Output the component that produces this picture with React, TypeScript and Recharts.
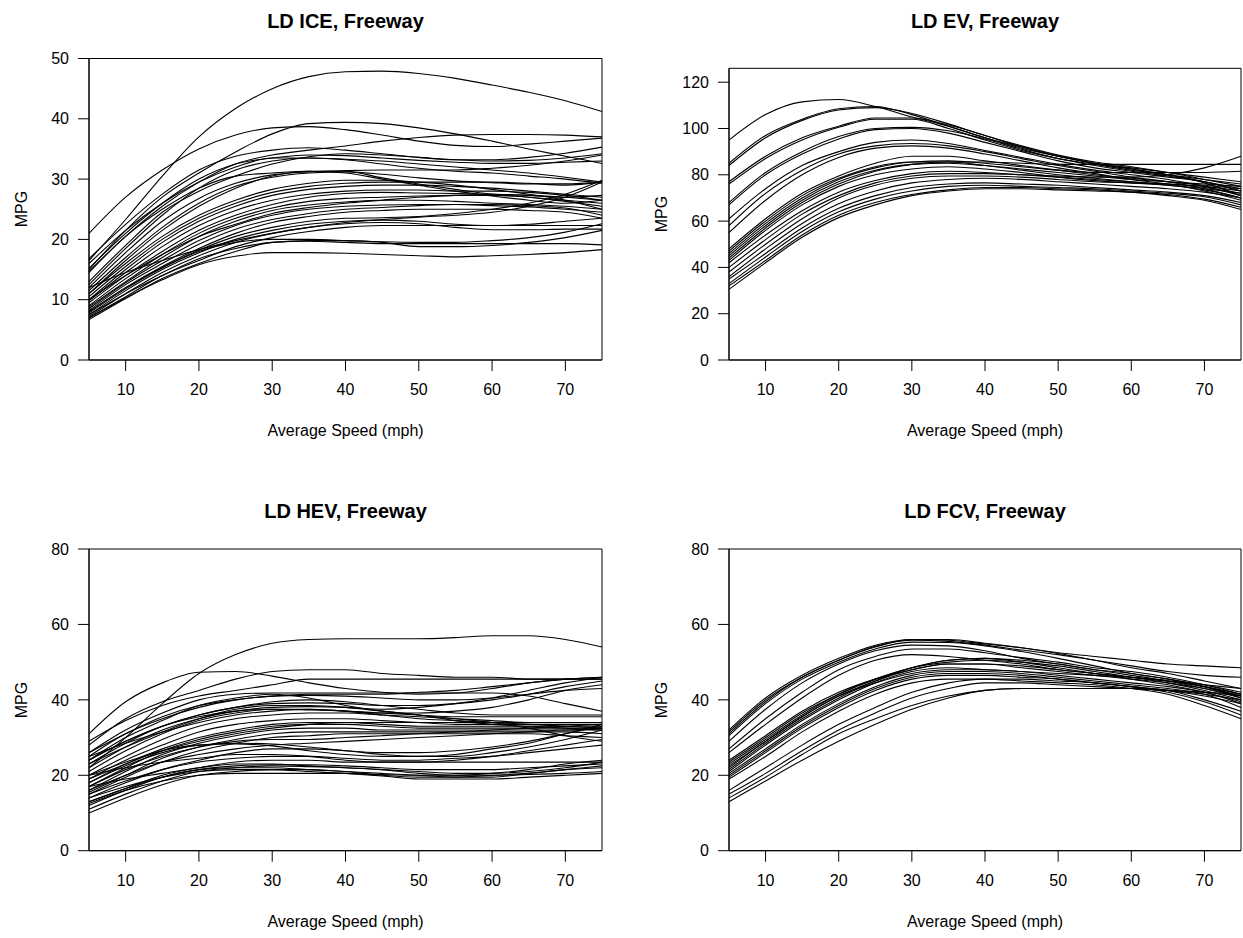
import React from 'react';
import { LineChart, Line, XAxis, YAxis, ReferenceArea } from 'recharts';

const speeds = [5, 10, 15, 20, 25, 30, 35, 40, 45, 50, 55, 60, 65, 70, 75];
const speedTicks = [10, 20, 30, 40, 50, 60, 70];

const iceMpg = [
  [21, 27, 31.5, 35, 37.3, 38.5, 38.7, 38.2, 37.3, 36.3, 35.6, 35.4, 35.8, 36.3, 36.8],
  [16.5, 23.3, 30.5, 37, 41.7, 45, 47, 47.8, 47.9, 47.5, 46.7, 45.6, 44.4, 43, 41.2],
  [15, 21.5, 27, 31, 34.5, 37.5, 39.2, 39.4, 39.2, 38.5, 37.5, 36.3, 35, 33.8, 32.6],
  [14.7, 20.5, 25.5, 29.5, 32.5, 34, 34.8, 35.5, 36.3, 36.9, 37.3, 37.4, 37.4, 37.3, 37],
  [16.8, 22.5, 27.5, 31.5, 33.8, 34.8, 35.2, 34.8, 34.2, 33.6, 33.2, 33.2, 33.6, 34.3, 35.3],
  [15.2, 21, 26, 30, 32.5, 33.5, 34, 33.9, 33.5, 33.1, 32.8, 32.6, 32.6, 32.8, 33],
  [12.5, 18.5, 24, 28.5, 31.5, 33, 33.5, 33.3, 33, 32.5, 32, 31.5, 31, 30.3, 29.5],
  [13, 19, 24.5, 28, 30.5, 32.5, 33.7, 34.2, 34, 33.6, 33.2, 33, 33.1, 33.5, 34.2],
  [12, 17.8, 23, 26.8, 29.3, 30.7, 31.2, 31.4, 31.5, 31.5, 31.5, 31.8, 32.3, 33, 34],
  [11.5, 17, 22, 26, 28.8, 30.3, 31, 31.2, 30.8, 30.2, 29.7, 29.4, 29.2, 29.2, 29.5],
  [11, 16.5, 21.5, 25.5, 28.5, 30.5, 31.3, 31.3, 30.2, 29.2, 28.3, 27.5, 27, 26.5, 26],
  [10.5, 15.5, 20, 23.5, 26, 27.8, 28.8, 29.3, 29.5, 29.5, 29.5, 29.5, 29.3, 29, 29.5],
  [10, 15, 19.5, 23, 25.5, 27.3, 28.3, 28.8, 29, 29, 28.8, 28.5, 28, 27.5, 27],
  [9.8, 14.5, 18.8, 22.3, 24.8, 26.5, 27.5, 28, 28.2, 28.2, 28, 28, 27.8, 27.3, 26.5],
  [9.5, 14, 18, 21.5, 24, 25.8, 27, 27.6, 27.8, 27.7, 27.6, 27.5, 27.3, 27, 27.3],
  [9, 13.5, 17.5, 21, 23.5, 25.2, 26.3, 26.8, 27, 27.2, 27.3, 27.3, 27, 26.3, 25.5],
  [8.8, 13, 17, 20.5, 23, 24.8, 25.7, 26.2, 26.5, 26.5, 26.3, 26, 25.8, 25.5, 25],
  [8.5, 12.8, 16.5, 19.8, 22.3, 24, 25, 25.5, 25.7, 25.8, 25.8, 25.6, 25.4, 25, 24.5],
  [8.2, 12.5, 16, 19.2, 21.7, 23.3, 24.3, 25, 25.3, 25.6, 25.8, 25.8, 25.6, 25.2, 24],
  [8, 12, 15.5, 18.5, 21, 22.8, 23.8, 24.5, 24.8, 25, 25, 25, 24.8, 24.5, 23.5],
  [12, 14.5, 16.5, 18.3, 19.8, 21, 22, 22.8, 23.3, 23.7, 24, 24.5, 25.5, 27, 29.5],
  [7.8, 11.8, 15.3, 18.2, 20.5, 22, 23, 23.5, 23.6, 23.8, 24.3, 25, 26, 27.5, 29.8],
  [7.5, 11.5, 15, 17.8, 20, 21.5, 22.5, 23, 23.2, 23, 22.5, 22.3, 22.5, 23, 23.5],
  [7.2, 11, 14.5, 17.3, 19.5, 21, 22, 22.6, 22.8, 22.6, 22, 21.6, 21.6, 21.7, 21.7],
  [7, 10.5, 14, 16.5, 18.8, 20.3, 21.3, 22, 22.3, 22.3, 22.3, 22.3, 22.3, 22.3, 22.3],
  [6.7, 10.2, 13.5, 16, 18, 19.5, 19.8, 19.8, 19.6, 19.5, 19.5, 19.8, 20.3, 21.2, 22.6],
  [7.5, 11, 14, 16.8, 18.5, 19.5, 19.7, 19.5, 19.3, 19.3, 19.3, 19.3, 19.3, 19.3, 19.1],
  [7, 10.3, 13.3, 15.8, 17.2, 17.8, 17.8, 17.7, 17.5, 17.3, 17.1, 17.3, 17.5, 17.8, 18.3],
  [8, 12, 15.3, 18, 19.5, 20, 20, 19.8, 19.5, 18.8, 18.8, 19, 19.5, 20.3, 21.5],
  [16, 21.5, 26, 29.5, 32, 33.5, 33.5, 33.2, 32.5, 31.8, 31.3, 31, 30.5, 30, 29.3],
  [14.5, 20.5, 25, 28.5, 30.5, 31, 31.3, 31, 30, 29, 28, 27.2, 26.5, 26, 26.5],
  [11, 16, 20.5, 24, 26.5, 28.3, 29.3, 29.8, 29.8, 29.5, 29, 28.3, 27.5, 26.5, 25],
  [10, 14, 17.5, 20.5, 22.5, 24.3, 25.3, 26, 26.5, 27, 27.3, 27.5, 27.3, 27, 26.5],
];

const evMpg = [
  [95, 106, 111.5, 112.5, 109.5, 105, 101, 96, 91.5, 88, 85, 82.5, 80, 76.5, 71],
  [85, 97, 104, 108.5, 109.5, 106, 101, 96, 92, 88, 85, 82.5, 80, 77, 73],
  [84, 96, 103.5, 108, 109, 106.5, 102, 97, 92.5, 88.5, 85.5, 83.5, 81, 78, 75],
  [77, 88, 96, 101, 104.5, 104.5, 101.5, 97, 92, 88, 85, 83, 81, 79, 77],
  [76, 87, 95, 100.5, 104, 104, 100, 95, 90.5, 87, 84.5, 82, 80, 78, 76],
  [68, 81, 90, 96.5, 100, 100.5, 99, 95.5, 91, 87, 84, 81.5, 79.5, 77, 74],
  [67, 80, 89, 95.5, 99.5, 100, 98, 94, 90, 86, 83, 81, 79, 77, 73],
  [61, 74, 84, 90, 94, 95, 93.5, 90.5, 87.5, 84.5, 82, 80, 78, 75, 71],
  [58, 72, 82, 89, 92.5, 93.5, 92.5, 90, 87, 84, 81.5, 79, 77, 74, 70],
  [55, 69, 80, 87.5, 91.5, 92.5, 91.5, 89, 86, 83, 80.5, 78, 76, 73, 69],
  [48, 61, 72, 79.5, 85, 88, 88, 86, 84, 82, 80, 78.5, 77, 75.5, 74],
  [47, 60, 71, 78.5, 83.5, 85.5, 85.5, 84, 82, 80, 78.5, 77, 75.5, 74, 72],
  [45, 58, 69, 77, 82, 84.5, 85, 84, 82.5, 81, 79.5, 78, 77, 76, 75],
  [43, 56, 67, 75, 80, 82.5, 83.5, 82.5, 81, 79, 77.5, 76.5, 75.5, 73.5, 70],
  [42, 54, 64.5, 72.5, 77.5, 80.5, 81.5, 81, 80, 79, 78, 77, 76, 74.5, 72],
  [40, 52, 63, 71, 76.5, 79.5, 80.5, 80.5, 80, 79.5, 79, 79, 80, 83, 88],
  [44, 57, 68, 76, 81.5, 84.5, 85.5, 85.5, 85, 84.5, 84.5, 84.5, 84.5, 84.5, 84.5],
  [46, 59, 70, 78, 83, 85.5, 86, 85, 83.5, 82, 81, 81, 81, 81, 81.5],
  [38, 50, 61, 70, 75.5, 78.5, 79.5, 79.5, 79, 78, 77, 76.5, 76, 75, 73],
  [36, 48, 59, 67.5, 73, 76.5, 78, 78.5, 78, 77, 76, 75, 74, 72.5, 70],
  [35, 46, 57, 65.5, 71, 74.5, 76, 76.5, 76, 75.5, 74.5, 73.5, 72.5, 71, 68],
  [33, 44.5, 55.5, 64, 69.5, 73, 75, 75.5, 75, 74.5, 74, 73, 72, 70.5, 67],
  [32, 43, 54, 62.5, 68, 71.5, 73.5, 74.5, 74.5, 74, 73.5, 72.5, 71.5, 69.5, 66],
  [30.5, 42, 53, 61.5, 67, 71, 73, 74, 74, 73.5, 73, 72.5, 71, 69, 65],
];

const hevMpg = [
  [31, 39.5, 44.5, 47.3, 47.5, 46.3, 44.5, 43, 42, 41.5, 41.8, 43, 44.5, 45.5, 46],
  [22, 30, 39, 47, 52, 55, 56, 56.2, 56.2, 56.2, 56.5, 57, 57, 56, 54],
  [28, 35, 39.5, 42.5, 45.5, 47.5, 48, 48, 47, 46.5, 46, 46, 45.5, 45.5, 45.5],
  [29, 34.5, 38.5, 41, 42.5, 44, 45.5, 45.5, 45.5, 45.5, 45.5, 45.5, 45.5, 45.5, 45.5],
  [26, 32, 36.5, 40, 41.5, 41.8, 41.8, 41.8, 41.8, 41.8, 41.8, 41.8, 41, 39, 37],
  [24, 30, 34.5, 38.5, 40.5, 41.5, 40.5, 38.5, 37, 36, 34.5, 33.5, 33, 32.5, 32],
  [25, 31, 35, 38, 40, 41, 41.2, 41, 40.5, 40, 40, 40.5, 41.5, 42.5, 43],
  [23, 28.5, 33, 36, 38, 39, 39.2, 39, 38.5, 38.5, 39, 40, 41.5, 43.5, 45],
  [22, 27.5, 32, 35, 37, 38, 38.2, 38, 37.5, 38, 39, 40.5, 42.5, 44.5, 46],
  [21, 26.5, 31, 34.5, 36.5, 37.5, 37.5, 37, 36.5, 36.5, 37, 38, 40, 42.5, 44],
  [24, 29, 33, 35.5, 37, 37.5, 37.3, 37, 36.5, 36, 35.5, 35.5, 35.5, 35.5, 35.5],
  [20, 25, 29.5, 33, 35, 36, 36.5, 36.5, 36, 35.5, 35, 34.5, 34, 34, 34],
  [19, 24, 28, 31.5, 33.5, 34.5, 35, 35, 34.5, 34, 33.5, 33.5, 33.5, 33.5, 33.5],
  [18, 23, 27, 30, 32, 33.5, 34, 34, 33.5, 33, 33, 33, 33, 33, 33],
  [17, 22, 26.5, 29.5, 31.5, 33, 33.5, 33.5, 33, 32.5, 32.5, 32.5, 32.5, 32.5, 32.5],
  [16, 21, 25.5, 28.5, 30.5, 32, 32.5, 32.5, 32, 32, 32, 32, 32, 32, 32.5],
  [15.5, 20, 24.5, 27.5, 29.5, 31, 31.5, 31.5, 31.5, 31.5, 31.5, 31.5, 31.5, 31.5, 31],
  [15, 19.5, 23.5, 26.5, 28.5, 30, 30.5, 31, 31, 31, 31, 31, 31, 30.5, 30],
  [17, 21.5, 25, 27.5, 29, 29.5, 29.5, 30, 30.5, 31, 31.5, 32, 32.5, 33, 33.5],
  [18, 22.5, 26, 28, 28.5, 28.3, 27.5, 26.5, 26, 26, 26.5, 27.5, 29, 31, 33],
  [19, 23, 26.5, 28, 28.3, 27.8, 26.5, 25.5, 25, 25, 25.5, 27, 28.5, 31, 33.5],
  [16, 20, 23.5, 25.5, 27, 28, 28.5, 29, 29.5, 30, 30.5, 31, 31.5, 32, 32],
  [14, 18, 21.5, 24, 26, 27, 27, 26.5, 25.5, 25, 25, 26, 27.5, 29.5, 32],
  [15, 18.5, 21.5, 23.5, 24.5, 25, 25, 24.5, 24, 24, 24.5, 25, 26, 27, 28],
  [13, 16.5, 20, 22, 23.5, 24, 24, 23.5, 23.5, 23.5, 23.5, 23.5, 23.5, 23.5, 23.5],
  [20, 22, 23.5, 24.5, 25.5, 25.5, 25, 24, 23.5, 23.5, 24, 25, 26.5, 28, 29.5],
  [12, 16, 19.5, 21.5, 22.5, 22.8, 22.8, 22.5, 22, 21.5, 21.5, 21.5, 22, 22.5, 23],
  [11, 15, 18.5, 21, 22, 22.5, 22.3, 22, 21.5, 21, 20.5, 20.5, 21, 22, 23.5],
  [10, 14, 17.5, 20, 21, 21.5, 21.5, 21, 20.5, 20, 19.5, 19.5, 20.5, 21.5, 22.5],
  [13, 16.5, 19.5, 21.5, 22, 22, 21.5, 21, 20, 19.5, 19.5, 20, 20.5, 21.5, 22],
  [12.5, 16, 18.5, 20, 20.5, 20.5, 20.5, 20.5, 20.2, 20, 20, 20, 20.2, 20.5, 21],
  [14, 17, 19.5, 21, 21.5, 21.5, 21, 20.5, 19.8, 19, 19, 19, 19.5, 20, 20.5],
  [17, 19, 20.5, 22, 23, 23, 22.5, 22, 21.5, 20.5, 20, 20.5, 21.5, 23, 24],
  [20, 23.5, 26.5, 29, 31, 32.5, 33.5, 34, 34, 34, 34, 34, 34, 34, 34],
  [25, 28.5, 31.5, 34, 36, 37, 37.5, 37, 36, 35, 34.5, 34, 33.5, 33, 32.5],
  [26, 31, 35.5, 38.5, 40, 41, 41.5, 41.5, 41.5, 42, 42.5, 43.5, 44.5, 45.5, 46],
  [23, 27.5, 31.5, 35, 37.5, 38.5, 38.5, 38, 37, 36, 35, 34, 32.5, 30.5, 29],
  [24, 29, 33, 36, 38, 39.5, 40, 39.5, 38.5, 37.5, 36.5, 36, 36, 36, 36],
];

const fcvMpg = [
  [32, 40.5, 46.5, 51, 54.5, 56, 55.8, 54.8, 53.8, 52.5, 51.5, 50.5, 49.5, 49, 48.5],
  [31.5, 40, 46, 50.5, 54.2, 55.8, 55.5, 54.5, 53.2, 52, 50.5, 49, 47.5, 46.5, 46],
  [31, 39.5, 46, 50.5, 54, 56, 56, 55, 53.8, 52.3, 50.5, 48.5, 47, 45, 43],
  [30.5, 39, 45.5, 50, 53.5, 55.3, 55.2, 54.3, 52.8, 51, 49, 47, 45.5, 44, 42],
  [29, 37.5, 44.5, 49.5, 53, 54.5, 54.3, 53, 51, 49.5, 48, 47, 45.5, 43.5, 41],
  [27, 35, 42, 48, 51.5, 53.5, 53.5, 52.5, 51.2, 50, 48.5, 47.5, 46, 44, 41.5],
  [26, 33.5, 40.5, 46.5, 50.5, 52, 51.5, 50.5, 49.5, 48, 47, 46, 45, 43.5, 40.5],
  [24, 30.5, 37, 42, 45.5, 48, 49.5, 49.5, 48.5, 47.5, 46.5, 45.5, 44.5, 43, 41],
  [23.5, 30, 36.5, 41.5, 45.5, 48.5, 50, 50.5, 50, 49, 47.5, 46, 44.5, 42.5, 40],
  [23, 29.5, 36, 41.5, 45.5, 48.5, 50.5, 51, 50.5, 49.5, 48, 46.5, 45, 43, 40.5],
  [22, 29, 35.5, 41, 45, 48.5, 50.5, 51, 50, 48.5, 47, 45.5, 44, 42, 39.5],
  [21.5, 28.5, 35, 40.5, 45, 48, 49.5, 49.5, 49, 48, 47, 46, 45, 43.5, 41.5],
  [21, 28, 34.5, 40, 44.5, 47.5, 48.5, 48, 47.5, 46.5, 45.5, 44.5, 43.5, 42, 39],
  [20.5, 27, 33.5, 39, 43.5, 46.5, 47.5, 47.5, 47, 46, 45, 44, 43, 41.5, 38],
  [20, 26.5, 33, 38.5, 43, 46, 47, 47, 46.5, 45.5, 44.5, 43.5, 42.5, 40, 37],
  [19.5, 26, 32.5, 38, 42.5, 45.5, 46.5, 46.5, 46, 45.5, 44.5, 43.5, 42, 39.5, 36],
  [19, 25, 31.5, 37, 41.5, 44.5, 45.5, 45.5, 45, 44.5, 44, 43, 41.5, 38.5, 35],
  [16, 22, 28, 33.5, 38, 42, 44.5, 45.5, 45.5, 45, 44.5, 43.5, 42.5, 41, 39],
  [15, 20.5, 26.5, 32, 36.5, 40.5, 43, 44.5, 44.5, 44, 43.5, 43, 42.5, 41.5, 40],
  [14, 19.5, 25.5, 31, 35, 38.5, 41, 42.5, 43, 43, 43, 43, 42.5, 42, 41],
  [13, 18.5, 24, 29, 33.5, 37.5, 40.5, 42.5, 43, 43, 43, 43, 42.5, 42, 41.5],
  [22.5, 29, 35.5, 41, 44.5, 47, 48, 48, 47.5, 47, 46.5, 46, 45, 44, 43],
];

const toRows = (curves: number[][]) =>
  speeds.map((s, i) => {
    const row: Record<string, number> = { speed: s };
    curves.forEach((c, j) => {
      row[`c${j}`] = c[i];
    });
    return row;
  });

const font = '"Liberation Sans", Arial, Helvetica, sans-serif';
const Y_AXIS_W = 60;
const X_AXIS_H = 40;

interface PanelProps {
  title: string;
  titleY: number;
  curves: number[][];
  yMax: number;
  yTicks: number[];
  left: number;
  top: number;
  width: number;
  height: number;
  // plot box in page coordinates
  x0: number;
  x1: number;
  y0: number;
  y1: number;
}

const Panel: React.FC<PanelProps> = ({ title, titleY, curves, yMax, yTicks, left, top, width, height, x0, x1, y0, y1 }) => {
  const data = toRows(curves);
  const margin = {
    left: x0 - left - Y_AXIS_W,
    right: left + width - x1,
    top: y0 - top,
    bottom: top + height - y1 - X_AXIS_H,
  };
  const cx = (x0 + x1) / 2;
  const cy = (y0 + y1) / 2;
  const tickStyle = { fill: '#000', fontSize: 16, fontFamily: font };

  return (
    <>
      <div style={{ position: 'absolute', left, top, width, height }}>
        <LineChart width={width} height={height} data={data} margin={margin}>
          <XAxis
            dataKey="speed"
            type="number"
            domain={[5, 75]}
            ticks={speedTicks}
            height={X_AXIS_H}
            tick={tickStyle}
            tickSize={11}
            tickMargin={13}
            axisLine={{ stroke: '#000' }}
            tickLine={{ stroke: '#000' }}
          />
          <YAxis
            type="number"
            domain={[0, yMax]}
            ticks={yTicks}
            width={Y_AXIS_W}
            tick={tickStyle}
            tickSize={11}
            tickMargin={9}
            axisLine={{ stroke: '#000' }}
            tickLine={{ stroke: '#000' }}
          />
          <ReferenceArea x1={5} x2={75} y1={0} y2={yMax} fill="none" stroke="#000" strokeWidth={1} />
          {curves.map((_, j) => (
            <Line
              key={j}
              type="monotone"
              dataKey={`c${j}`}
              stroke="#000"
              strokeWidth={1.1}
              dot={false}
              activeDot={false}
              isAnimationActive={false}
            />
          ))}
        </LineChart>
      </div>
      <div style={{ position: 'absolute', left: cx, top: titleY, transform: 'translate(-50%, -50%)', fontFamily: font, fontWeight: 'bold', fontSize: 20, whiteSpace: 'nowrap' }}>
        {title}
      </div>
      <div style={{ position: 'absolute', left: cx, top: y1 + 71, transform: 'translate(-50%, -50%)', fontFamily: font, fontSize: 16, whiteSpace: 'nowrap' }}>
        Average Speed (mph)
      </div>
      <div style={{ position: 'absolute', left: x0 - 67, top: cy, transform: 'translate(-50%, -50%) rotate(-90deg)', fontFamily: font, fontSize: 16, whiteSpace: 'nowrap' }}>
        MPG
      </div>
    </>
  );
};

export default function App() {
  return (
    <div style={{ position: 'absolute', left: 0, top: 0, width: 1243, height: 938, background: '#fff', overflow: 'hidden' }}>
      <Panel title="LD ICE, Freeway" titleY={21} curves={iceMpg} yMax={50} yTicks={[0, 10, 20, 30, 40, 50]}
        left={0} top={0} width={621} height={469} x0={89} x1={602} y0={58.5} y1={360} />
      <Panel title="LD EV, Freeway" titleY={21} curves={evMpg} yMax={126} yTicks={[0, 20, 40, 60, 80, 100, 120]}
        left={621} top={0} width={622} height={469} x0={729} x1={1241} y0={68.3} y1={360} />
      <Panel title="LD HEV, Freeway" titleY={511} curves={hevMpg} yMax={80} yTicks={[0, 20, 40, 60, 80]}
        left={0} top={469} width={621} height={469} x0={89} x1={602} y0={549} y1={850.7} />
      <Panel title="LD FCV, Freeway" titleY={511} curves={fcvMpg} yMax={80} yTicks={[0, 20, 40, 60, 80]}
        left={621} top={469} width={622} height={469} x0={729} x1={1241} y0={549} y1={850.7} />
    </div>
  );
}
